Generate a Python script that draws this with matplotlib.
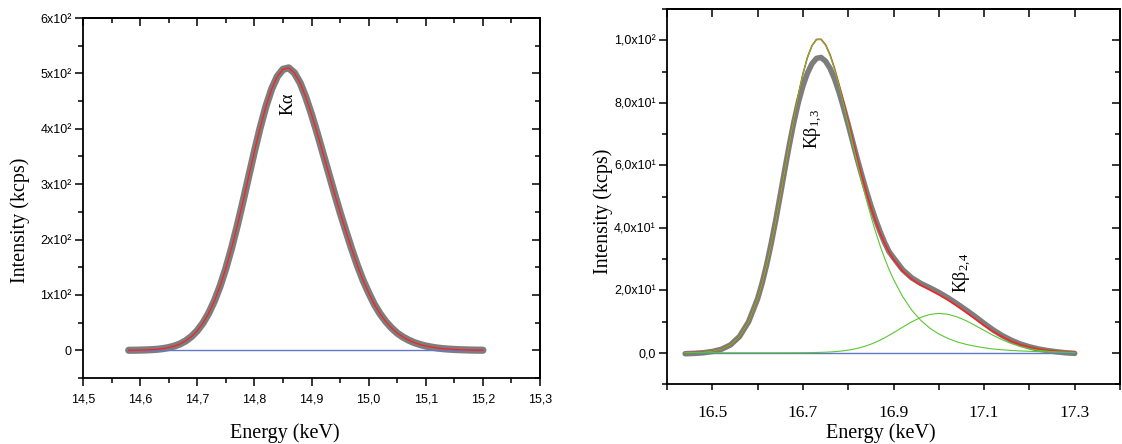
import matplotlib
matplotlib.use('Agg')
import matplotlib.pyplot as plt
from matplotlib.ticker import MultipleLocator, FuncFormatter
import numpy as np

plt.rcParams['mathtext.fontset'] = 'custom'
plt.rcParams['mathtext.rm'] = 'Liberation Serif'
plt.rcParams['mathtext.it'] = 'Liberation Serif:italic'

SERIF = 'Liberation Serif'
SANS = 'Liberation Sans'
GRAY = '#7d7d7d'; RED = '#ff1f1f'; GREEN = '#5cc634'; BLUE = '#6478c8'

# ---- K-alpha line (left) ----
ka_energy = [14.58, 14.59, 14.60, 14.61, 14.62, 14.63, 14.64, 14.65, 14.66, 14.67,
             14.68, 14.69, 14.70, 14.71, 14.72, 14.73, 14.74, 14.75, 14.76, 14.77,
             14.78, 14.79, 14.80, 14.81, 14.82, 14.83, 14.84, 14.85, 14.86, 14.87,
             14.88, 14.89, 14.90, 14.91, 14.92, 14.93, 14.94, 14.95, 14.96, 14.97,
             14.98, 14.99, 15.00, 15.01, 15.02, 15.03, 15.04, 15.05, 15.06, 15.07,
             15.08, 15.09, 15.10, 15.11, 15.12, 15.13, 15.14, 15.15, 15.16, 15.17,
             15.18, 15.19, 15.20]
ka_counts = [0.1, 0.2, 0.4, 0.7, 1.2, 1.9, 3.1, 5.0, 7.7, 11.6,
             17.2, 25.0, 35.5, 49.3, 67.0, 89.2, 116.1, 147.9, 184.4, 225.0,
             268.6, 313.9, 358.9, 401.6, 439.8, 471.3, 494.3, 507.3, 510.0, 501.0,
             483.0, 457.0, 426.0, 392.0, 356.0, 320.0, 284.0, 249.0, 216.0, 184.0,
             154.0, 127.0, 104.0, 83.0, 66.0, 52.0, 40.5, 31.1, 24.0, 18.4,
             13.9, 10.5, 7.8, 5.8, 4.2, 3.0, 2.2, 1.6, 1.1, 0.8,
             0.5, 0.3, 0.2]
ka_fit = ka_counts
ka_background = 0.0

# ---- K-beta lines (right) ----
kb_energy = [16.44, 16.46, 16.48, 16.50, 16.52, 16.54, 16.56, 16.58,
             16.60, 16.61, 16.62, 16.63, 16.64, 16.65, 16.66, 16.67, 16.68, 16.69,
             16.70, 16.71, 16.72, 16.73, 16.74, 16.75, 16.76, 16.77, 16.78, 16.79,
             16.80, 16.81, 16.82, 16.83, 16.84, 16.85, 16.86, 16.87, 16.88, 16.89,
             16.90, 16.92, 16.94, 16.96, 16.98, 17.00, 17.02, 17.04, 17.06, 17.08,
             17.10, 17.12, 17.14, 17.16, 17.18, 17.20, 17.22, 17.24, 17.26, 17.28,
             17.30]
kb_counts = [-0.3, -0.2, 0.0, 0.4, 1.1, 2.5, 5.2, 9.9,
             17.3, 22.3, 28.2, 35.0, 42.4, 50.4, 58.6, 66.5, 73.8, 80.2,
             85.4, 89.5, 92.5, 94.2, 94.5, 93.3, 91.0, 87.6, 83.3, 78.3,
             73.0, 67.5, 62.0, 56.8, 51.8, 47.1, 42.8, 38.9, 35.4, 32.4,
             30.4, 26.6, 24.0, 22.2, 20.8, 19.3, 17.6, 15.7, 13.7, 11.6,
             9.4, 7.3, 5.5, 4.0, 2.8, 1.9, 1.2, 0.7, 0.3, 0.0,
             -0.2]
kb13_fit = [0.0, 0.07, 0.19, 0.49, 1.16, 2.56, 5.23, 9.9,
            17.3, 22.2, 28.0, 34.7, 42.0, 50.0, 58.4, 66.8, 75.0, 82.6,
            89.2, 94.5, 98.2, 100.2, 100.2, 98.4, 95.1, 90.6, 85.3, 79.4,
            73.2, 66.9, 60.7, 54.7, 49.1, 43.8, 38.9, 34.4, 30.4, 26.7,
            23.5, 18.0, 13.7, 10.4, 7.9, 6.0, 4.6, 3.5, 2.7, 2.1,
            1.6, 1.2, 0.95, 0.75, 0.59, 0.46, 0.36, 0.28, 0.22, 0.17,
            0.13]
kb24_fit = [0.0, 0.0, 0.0, 0.0, 0.0, 0.0, 0.0, 0.0,
            0.0, 0.0, 0.0, 0.0, 0.0, 0.0, 0.01, 0.01, 0.01, 0.02,
            0.03, 0.04, 0.06, 0.09, 0.13, 0.18, 0.26, 0.35, 0.48, 0.64,
            0.84, 1.10, 1.41, 1.79, 2.23, 2.75, 3.35, 4.02, 4.76, 5.56,
            6.41, 8.17, 9.88, 11.31, 12.26, 12.60, 12.32, 11.51, 10.28, 8.77,
            7.16, 5.58, 4.16, 2.96, 2.01, 1.31, 0.81, 0.48, 0.27, 0.15,
            0.08]
kb_background = 0.0
kb_total = np.add(kb13_fit, kb24_fit)

fig = plt.figure(figsize=(11.22, 4.44), dpi=100)
ax1 = fig.add_axes([0.074, 0.1486, 0.4073, 0.8108])
ax2 = fig.add_axes([0.5945, 0.1351, 0.4037, 0.8446])


def style_axes(ax, xpad, xsize, xfont, xlen):
    for s in ax.spines.values():
        s.set_linewidth(1.3)
    ax.tick_params(which='both', direction='out', width=1.1, top=False, right=False)
    ax.tick_params(which='major', length=6)
    ax.tick_params(which='minor', length=3.5)
    ax.tick_params(axis='x', pad=xpad, labelsize=xsize, length=xlen)
    ax.tick_params(axis='y', pad=2, labelsize=9)
    for lab in ax.get_xticklabels():
        lab.set_family(xfont)
    for lab in ax.get_yticklabels():
        lab.set_family(SANS)
    # mirrored axes with inward ticks
    top = ax.secondary_xaxis('top')
    top.xaxis.set_major_locator(ax.xaxis.get_major_locator())
    top.xaxis.set_minor_locator(ax.xaxis.get_minor_locator())
    top.tick_params(which='both', direction='in', labeltop=False, width=1.1)
    top.tick_params(which='major', length=6)
    top.tick_params(which='minor', length=3.5)
    top.spines['top'].set_linewidth(1.3)
    right = ax.secondary_yaxis('right')
    right.yaxis.set_major_locator(ax.yaxis.get_major_locator())
    right.yaxis.set_minor_locator(ax.yaxis.get_minor_locator())
    right.tick_params(which='both', direction='in', labelright=False, width=1.1)
    right.tick_params(which='major', length=6)
    right.tick_params(which='minor', length=3.5)
    right.spines['right'].set_linewidth(1.3)


# left panel
ax1.plot(ka_energy, ka_counts, color=GRAY, lw=5.2, solid_capstyle='round', zorder=2)
ax1.hlines(ka_background, ka_energy[0], ka_energy[-1], color=BLUE, lw=1.0, zorder=3)
ax1.plot(ka_energy, ka_fit, color=RED, lw=0.9, zorder=4)
ax1.text(14.859, 445, r'K$\mathrm{\alpha}$', rotation=90, ha='center', va='center',
         fontsize=13, family=SERIF)
ax1.set_xlim(14.5, 15.3)
ax1.set_ylim(-50, 600)
ax1.xaxis.set_major_locator(MultipleLocator(0.1))
ax1.xaxis.set_minor_locator(MultipleLocator(0.05))
ax1.yaxis.set_major_locator(MultipleLocator(100))
ax1.yaxis.set_minor_locator(MultipleLocator(50))
ax1.xaxis.set_major_formatter(FuncFormatter(lambda v, p: f'{v:.1f}'.replace('.', ',')))
ax1.yaxis.set_major_formatter(FuncFormatter(
    lambda v, p: '0' if abs(v) < 1e-9 else f'{int(round(v / 100))}x10\u00b2'))
style_axes(ax1, 5.5, 9, SANS, 6)

# right panel
ax2.plot(kb_energy, kb_counts, color=GRAY, lw=4.0, solid_capstyle='round', zorder=2)
ax2.hlines(kb_background, kb_energy[0], kb_energy[-1], color=BLUE, lw=1.0, zorder=3)
ax2.plot(kb_energy, kb_total, color=RED, lw=1.1, zorder=4)
ax2.plot(kb_energy, kb13_fit, color=GREEN, lw=0.8, zorder=5)
ax2.plot(kb_energy, kb24_fit, color=GREEN, lw=0.8, zorder=5)
ax2.text(16.724, 71.7, r'$\mathrm{K\beta_{1,\!3}}$', rotation=90, ha='center', va='center',
         fontsize=13)
ax2.text(17.053, 25.5, r'$\mathrm{K\beta_{2,\!4}}$', rotation=90, ha='center', va='center',
         fontsize=13)
ax2.set_xlim(16.4, 17.4)
ax2.set_ylim(-10, 110)
ax2.xaxis.set_major_locator(MultipleLocator(0.1))
ax2.yaxis.set_major_locator(MultipleLocator(20))
ax2.yaxis.set_minor_locator(MultipleLocator(10))
ax2.xaxis.set_major_formatter(FuncFormatter(
    lambda v, p: f'{v:.1f}' if int(round(v * 10)) % 2 == 1 else ''))


def kb_ylab(v, p):
    if abs(v) < 1e-9:
        return '0,0'
    if v >= 100:
        return f'{v / 100:.1f}'.replace('.', ',') + 'x10\u00b2'
    return f'{v / 10:.1f}'.replace('.', ',') + 'x10\u00b9'


ax2.yaxis.set_major_formatter(FuncFormatter(kb_ylab))
style_axes(ax2, 10.5, 12.5, SERIF, 4.5)

# axis titles
W, H = 1122, 444
lab = dict(family=SERIF, fontsize=14.5)
fig.text(285 / W, 1 - 438 / H, 'Energy (keV)', ha='center', va='baseline', **lab)
fig.text(881 / W, 1 - 438 / H, 'Energy (keV)', ha='center', va='baseline', **lab)
fig.text(20 / W, 1 - 220 / H, 'Intensity (kcps)', rotation=90, ha='center', va='center', **lab)
fig.text(603 / W, 1 - 211 / H, 'Intensity (kcps)', rotation=90, ha='center', va='center', **lab)

fig.savefig('out.png', dpi=100, facecolor='white')
